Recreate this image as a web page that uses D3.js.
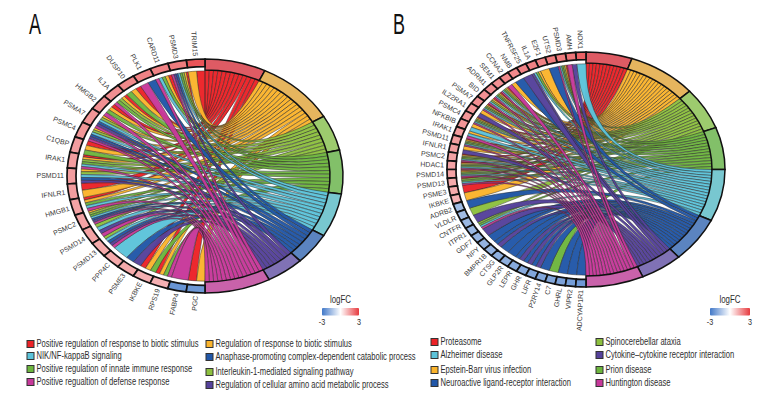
<!DOCTYPE html>
<html><head><meta charset="utf-8">
<script src="https://d3js.org/d3.v7.min.js"></script>
<style>html,body{margin:0;padding:0;background:#fff}svg{display:block}
.gene{font-family:"Liberation Sans",Arial,sans-serif;font-size:7px;fill:#3a3a3a}
.narrow{font-family:"Liberation Sans",Arial,sans-serif;fill:#2e2e2e}
</style></head><body><svg id="c" width="780" height="420"></svg>
<script>
// Panel A
const termsA=["Positive regulation of response to biotic stimulus","Regulation of response to biotic stimulus","Interleukin-1-mediated signaling pathway","Positive regulation of innate immune response","NIK/NF-kappaB signaling","Anaphase-promoting complex-dependent catabolic process","Regulation of cellular amino acid metabolic process","Positive regualtion of defense response"];
const genesA=["TRIM15","PSMD3","CARD11","PLK1","DUSP10","IL1A","HMGB2","PSMA7","PSMC4","C1QBP","IRAK1","PSMD11","IFNLR1","HMGB1","PSMC2","PSMD14","PSMD13","PPP4C","PSME3","IKBKE","RPS19","FABP4","PGC"];
const logFCA=[2.6,2.0,1.9,1.9,1.8,1.7,1.7,1.6,1.6,1.5,1.5,1.5,1.5,1.4,1.4,1.4,1.3,1.3,1.3,1.2,1.2,-2.4,-2.3];
const linksA=[[0,1],[0,1,2,3,4,5,6,7],[0,1,3,4,7],[5,7],[0,1,3],[0,1,2,3,7],[0,1,3,7],[1,2,4,5,6,7],[1,2,4,5,6,7],[0,1,3],[0,1,2,3,4,7],[1,2,4,5,6],[0,1],[0,1,3,4,7],[1,2,3,4,5,6,7],[2,4,6,7],[2,4,5,6,7],[4],[5,6],[0,1,3],[0,1,3,7],[7],[0,1]];
const legendYA=[[344,356,369,382],[344,357,372,385]];
const legendOrderA=[[0,4,3,7],[1,5,2,6]];
// Panel B
const termsB=["Proteasome","Epstein-Barr virus infection","Spinocerebellar ataxia","Prion disease","Alzheimer disease","Neuroactive ligand-receptor interaction","Cytokine\u2013cytokine receptor interaction","Huntington disease"];
const genesB=["NOX1","AMH","PSMD3","UTS2","E2F1","IL1A","TNFRSF25","NMB","CCNA2","SEM1","ADRM1","BID","PSMA7","IL22RA1","PSMC4","NFKBIB","IRAK1","PSMD11","IFNLR1","PSMC2","HDAC1","PSMD14","PSMD13","PSME3","IKBKE","ADRB2","VLDLR","CNTFR","ITPR1","GDF7","NPY","BMPR1B","CTSG","GLP2R","LEPR","GHR","LIFR","P2RY14","C7","GHRL","VIPR2","ADCYAP1R1"];
const logFCB=[2.4,2.1,2.0,2.0,1.9,1.9,1.9,1.8,1.8,1.7,1.7,1.7,1.7,1.6,1.6,1.6,1.5,1.5,1.5,1.4,1.4,1.4,1.3,1.3,1.2,-1.5,-1.5,-1.6,-1.6,-1.7,-1.7,-1.7,-1.8,-1.8,-1.9,-1.9,-2.0,-2.0,-2.0,-2.1,-2.2,-2.3];
const linksB=[[4],[6,7],[0,1,2,3,4,7],[5],[1],[1,3,4,6],[6],[5],[1,7],[0,1,2,3,4,7],[0,1,2,3,4,7],[0,1,2,4,7],[0,1,2,3,4,7],[1,6],[0,1,2,3,4,7],[1,4],[1,4,7],[0,1,2,3,4,7],[1,6],[0,1,2,3,4,7],[0,1,2,3,4,7],[0,1,2,3,4,7],[0,2,3,4,7],[0],[1],[5],[2],[6],[2,3,4,7],[6],[5],[5,6],[5],[5],[5,6],[5,6],[5,6],[5],[3],[5],[5],[5]];
const legendYB=[[342,355,370,383],[342,355,370,383]];
const legendOrderB=[[0,4,1,5],[2,6,3,7]];
// Colours
const ribbonColors=["#ec2227","#fbb42c","#8dc03f","#6db63e","#5cc3da","#2157a8","#55419b","#c7389a"];
const ringColors=["#de5b64","#e6b55e","#9dcb6e","#82c069","#78c7d0","#5b84c0","#8072b5","#c962aa"];
const fcDomain=[-3,0,3], fcRange=["#4279c8","#ffffff","#e73a3e"];
const fcTicks=[-3,3];

const svg=d3.select("#c");
const color=d3.scaleLinear().domain(fcDomain).range(fcRange);
const defs=svg.append("defs");
const grad=defs.append("linearGradient").attr("id","fc");
d3.range(0,1.001,0.25).forEach(t=>grad.append("stop").attr("offset",t)
  .attr("stop-color",color(d3.interpolateNumber(-3,3)(t))));

// draws condensed text: the font is squeezed to a fixed share of its width
function narrow(sel,x,y,size,sx,txt,anchor){
  return sel.append("text").attr("class","narrow")
    .attr("transform",`translate(${x},${y}) scale(${sx},1)`)
    .attr("font-size",size).attr("text-anchor",anchor||"start").text(txt);
}

function chord(o){
  const rx=o.rx, ry=o.ry, R=rx, termIn=rx-13, geneIn=rx-9, geneRib=rx-14;
  const g=svg.append("g").attr("transform",`translate(${o.cx},${o.cy}) scale(1,${ry/rx})`);
  const total=d3.sum(o.links,l=>l.length);
  const tAngle=d3.scaleLinear().domain([0,total]).range([0,Math.PI]);
  const gAngle=d3.scaleBand().domain(d3.range(o.genes.length)).range([Math.PI,2*Math.PI]);
  const counts=o.terms.map((_,t)=>d3.sum(o.links,l=>l.includes(t)?1:0));
  const cum=d3.cumsum(counts);
  const pos=o.terms.map((_,t)=>t?cum[t-1]:0);
  const ribbons=[];
  o.links.forEach((l,i)=>{
    const top=gAngle(o.genes.length-1-i)+gAngle.bandwidth(), w=gAngle.bandwidth()/l.length;
    l.forEach((t,k)=>{
      const s=pos[t]++;
      ribbons.push({term:t,
        source:{startAngle:tAngle(s),endAngle:tAngle(s+1),radius:termIn},
        target:{startAngle:top-(k+1)*w,endAngle:top-k*w,radius:geneRib}});
    });
  });
  ribbons.sort((a,b)=>a.term-b.term);
  const rib=d3.ribbon().radius(d=>d.radius);
  g.selectAll("path.r").data(ribbons).join("path").attr("class","r")
    .attr("d",rib).attr("fill",d=>ribbonColors[d.term]).attr("fill-opacity",.97)
    .attr("stroke","#2a2a2a").attr("stroke-width",.6).attr("stroke-opacity",.8)
    .attr("vector-effect","non-scaling-stroke");
  const arc=d3.arc();
  g.selectAll("path.t").data(counts).join("path").attr("class","t")
    .attr("d",(c,t)=>arc({innerRadius:termIn,outerRadius:R,startAngle:tAngle(cum[t]-c),endAngle:tAngle(cum[t])}))
    .attr("fill",(c,t)=>ringColors[t]).attr("stroke","#111").attr("stroke-width",1.5)
    .attr("vector-effect","non-scaling-stroke");
  g.selectAll("path.g").data(o.genes).join("path").attr("class","g")
    .attr("d",(d,i)=>{const a=gAngle(o.genes.length-1-i);
      return arc({innerRadius:geneIn,outerRadius:R,startAngle:a,endAngle:a+gAngle.bandwidth()});})
    .attr("fill",(d,i)=>color(o.fc[i])).attr("stroke","#111").attr("stroke-width",1.7)
    .attr("vector-effect","non-scaling-stroke");
  svg.append("g").selectAll("text").data(o.genes).join("text").attr("class","gene")
    .attr("text-anchor","end").attr("dy","0.35em")
    .attr("transform",(d,i)=>{
      const a=gAngle(o.genes.length-1-i)+gAngle.bandwidth()/2;
      const x=o.cx+(rx+3)*Math.sin(a), y=o.cy-(ry+3)*Math.cos(a);
      return `translate(${x},${y}) rotate(${a*180/Math.PI-270})`;})
    .text(d=>d);
  narrow(svg,o.letterX,34,29,.62,o.letter).style("fill","#111");
  o.legOrder.forEach((col,c)=>col.forEach((t,r)=>{
    const y=o.legY[c][r];
    svg.append("rect").attr("x",o.legX[c]).attr("y",y-3.5).attr("width",7).attr("height",7)
      .attr("fill",ribbonColors[t]).attr("stroke","#333").attr("stroke-width",1);
    narrow(svg,o.legX[c]+9.5,y+3.2,o.legSize,.76,o.terms[t]);
  }));
  const fx=d3.scaleLinear().domain(fcTicks).range(o.keyX);
  svg.append("rect").attr("x",o.keyX[0]).attr("y",308).attr("width",o.keyX[1]-o.keyX[0]).attr("height",7.5)
    .attr("rx",1).attr("fill","url(#fc)");
  narrow(svg,fx(0),303,11,.72,"logFC","middle");
  fcTicks.forEach(d=>narrow(svg,fx(d),325,9,.8,d,"middle"));
}
chord({cx:205,cy:176,rx:138,ry:117,terms:termsA,genes:genesA,fc:logFCA,links:linksA,letter:"A",letterX:29,
  legOrder:legendOrderA,legY:legendYA,legX:[27,206],legSize:10,keyX:[322,359]});
chord({cx:586,cy:169.5,rx:139,ry:117.5,terms:termsB,genes:genesB,fc:logFCB,links:linksB,letter:"B",letterX:393,
  legOrder:legendOrderB,legY:legendYB,legX:[431,596],legSize:10,keyX:[710,750]});
</script></body></html>
